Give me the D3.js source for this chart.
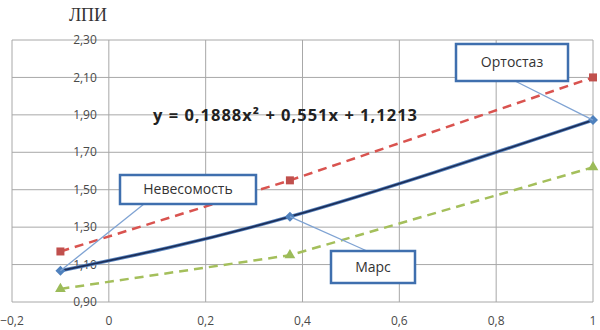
<!DOCTYPE html>
<html>
<head>
<meta charset="utf-8">
<script src="https://cdn.jsdelivr.net/npm/d3@7"></script>
<style>
  body { margin: 0; background: #fff; }
  text { font-family: "Open Sans", "Liberation Sans", sans-serif; }
</style>
</head>
<body>
<script>
// data
var xVals = [-0.1, 0.374, 1];
var blueVals = [1.067, 1.356, 1.872];   // main series (solid, diamonds)
var redVals = [1.17, 1.55, 2.10];       // upper series (dashed, squares)
var greenVals = [0.97, 1.15, 1.62];     // lower series (dashed, triangles)
var xTicks = [-0.2, 0, 0.2, 0.4, 0.6, 0.8, 1];
var yTicks = [0.9, 1.1, 1.3, 1.5, 1.7, 1.9, 2.1, 2.3];
var calloutNames = ["Невесомость", "Марс", "Ортостаз"];
var yTitle = "ЛПИ";
var equation = "y = 0,1888x² + 0,551x + 1,1213";

var width = 600, height = 330;

var svg = d3.select("body").append("svg")
    .attr("width", width)
    .attr("height", height);

var xScale = d3.scaleLinear().domain([-0.2, 1]).range([12, 593]);
var yScale = d3.scaleLinear().domain([0.9, 2.3]).range([302, 40]);

var fmtY = function(d) { return d3.format(".2f")(d).replace(".", ","); };
var fmtX = function(d) { return d === 0 || d === 1 ? d3.format("d")(d) : d3.format(".1f")(d).replace(".", ","); };

// gridlines
svg.append("g")
    .selectAll("line")
    .data(yTicks)
    .join("line")
      .attr("x1", xScale(-0.2)).attr("x2", xScale(1))
      .attr("y1", function(d) { return yScale(d); })
      .attr("y2", function(d) { return yScale(d); })
      .attr("stroke", "#a8a8a8").attr("stroke-width", 1);

svg.append("g")
    .selectAll("line")
    .data(xTicks)
    .join("line")
      .attr("x1", function(d) { return xScale(d); })
      .attr("x2", function(d) { return xScale(d); })
      .attr("y1", yScale(0.9)).attr("y2", yScale(2.3))
      .attr("stroke", "#a8a8a8").attr("stroke-width", 1);

// y tick labels next to the x=0 axis
svg.append("g")
    .selectAll("text")
    .data(yTicks)
    .join("text")
      .attr("x", xScale(0) - 12)
      .attr("y", function(d) { return yScale(d); })
      .attr("dy", "0.35em")
      .attr("text-anchor", "end")
      .attr("font-size", 12)
      .attr("fill", "#4a4a4a")
      .text(fmtY);

// x tick labels
svg.append("g")
    .selectAll("text")
    .data(xTicks)
    .join("text")
      .attr("x", function(d) { return xScale(d); })
      .attr("y", 325)
      .attr("text-anchor", "middle")
      .attr("font-size", 12)
      .attr("fill", "#4a4a4a")
      .text(fmtX);

// axis title (serif)
svg.append("text")
    .attr("x", 88)
    .attr("y", 21)
    .attr("text-anchor", "middle")
    .style("font-family", "'Liberation Serif', serif")
    .attr("font-size", 18)
    .attr("fill", "#333")
    .text(yTitle);

function pts(vals) {
  return xVals.map(function(x, i) { return [x, vals[i]]; });
}

var straight = d3.line()
    .x(function(d) { return xScale(d[0]); })
    .y(function(d) { return yScale(d[1]); });

var smooth = d3.line()
    .x(function(d) { return xScale(d[0]); })
    .y(function(d) { return yScale(d[1]); })
    .curve(d3.curveNatural);

// red dashed
svg.append("path")
    .datum(pts(redVals))
    .attr("d", straight)
    .attr("fill", "none")
    .attr("stroke", "#d9534f")
    .attr("stroke-width", 2.5)
    .attr("stroke-dasharray", "9,6");

// green dashed
svg.append("path")
    .datum(pts(greenVals))
    .attr("d", straight)
    .attr("fill", "none")
    .attr("stroke", "#a4bf5b")
    .attr("stroke-width", 2.5)
    .attr("stroke-dasharray", "9,6");

// blue solid
svg.append("path")
    .datum(pts(blueVals))
    .attr("d", smooth)
    .attr("fill", "none")
    .attr("stroke", "#5b86c0")
    .attr("stroke-width", 3.5);
svg.append("path")
    .datum(pts(blueVals))
    .attr("d", smooth)
    .attr("fill", "none")
    .attr("stroke", "#1c2f5a")
    .attr("stroke-width", 1.8);

// markers
svg.append("g")
    .selectAll("rect")
    .data(pts(redVals))
    .join("rect")
      .attr("x", function(d) { return xScale(d[0]) - 4; })
      .attr("y", function(d) { return yScale(d[1]) - 4; })
      .attr("width", 8).attr("height", 8)
      .attr("fill", "#c0504d");

svg.append("g")
    .selectAll("path")
    .data(pts(greenVals))
    .join("path")
      .attr("transform", function(d) { return "translate(" + xScale(d[0]) + "," + yScale(d[1]) + ")"; })
      .attr("d", d3.symbol(d3.symbolTriangle, 50))
      .attr("fill", "#9bbb59");

svg.append("g")
    .selectAll("path")
    .data(pts(blueVals))
    .join("path")
      .attr("transform", function(d) { return "translate(" + xScale(d[0]) + "," + yScale(d[1]) + ")rotate(45)"; })
      .attr("d", d3.symbol(d3.symbolSquare, 50))
      .attr("fill", "#4f81bd");

// equation
svg.append("text")
    .attr("x", 153)
    .attr("y", 121)
    .attr("font-size", 16.5)
    .attr("font-weight", "bold")
    .attr("fill", "#222")
    .attr("textLength", 264)
    .attr("lengthAdjust", "spacing")
    .text(equation);

// callouts: box [x, y, w, h] and where the leader line leaves the box
var boxes = [
  { box: [120, 175, 136, 29], from: [144, 204] },
  { box: [331, 251, 84, 32], from: [367, 251] },
  { box: [456, 44, 112, 37], from: [515, 81] }
];

boxes.forEach(function(b, i) {
  var tx = xScale(xVals[i]), ty = yScale(blueVals[i]);
  svg.append("line")
      .attr("x1", b.from[0]).attr("y1", b.from[1])
      .attr("x2", tx).attr("y2", ty)
      .attr("stroke", "#7fa3d3")
      .attr("stroke-width", 1.3);
  svg.append("rect")
      .attr("x", b.box[0]).attr("y", b.box[1])
      .attr("width", b.box[2]).attr("height", b.box[3])
      .attr("fill", "#fff")
      .attr("stroke", "#3f6fae")
      .attr("stroke-width", 2.5);
  svg.append("text")
      .attr("x", b.box[0] + b.box[2] / 2)
      .attr("y", b.box[1] + b.box[3] / 2)
      .attr("dy", "0.35em")
      .attr("text-anchor", "middle")
      .attr("font-size", 14)
      .attr("fill", "#333")
      .text(calloutNames[i]);
});
</script>
</body>
</html>
